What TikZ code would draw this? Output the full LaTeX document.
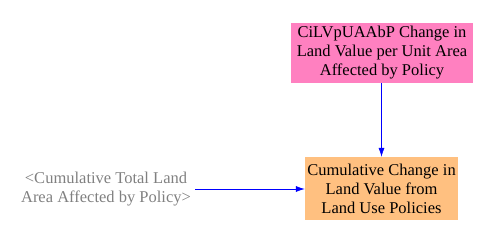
\documentclass[tikz,border=0pt]{standalone}
\usepackage{fontspec}
\setmainfont{Liberation Serif}
\usepackage{xcolor}
\usepackage{tikz}
\usetikzlibrary{arrows.meta}

\definecolor{rosebox}{HTML}{FF80C0}
\definecolor{peachbox}{HTML}{FFC080}

\begin{document}
\begin{tikzpicture}[x=1pt, y=-1pt]
      \tikzstyle{box} = [draw=none, align=center, inner sep=0pt, font=\fontsize{16.5}{19}\selectfont, text=black]
      \tikzstyle{ghost} = [align=center, inner sep=0pt, font=\fontsize{16.5}{19}\selectfont, text=gray]
      \tikzstyle{edge} = [-{Latex[length=9pt, width=6pt]}, semithick, blue]
      \useasboundingbox (0,0) rectangle (494,248);
      \node[box, fill=rosebox, minimum width=182pt, minimum height=60pt] (rate) at (382,53) {CiLVpUAAbP Change in\\Land Value per Unit Area\\Affected by Policy};
      \node[box, fill=peachbox, minimum width=153pt, minimum height=63pt] (cum) at (381.5,188.5) {Cumulative Change in\\Land Value from\\Land Use Policies};
      \node[ghost] (area) at (106,189) {<Cumulative Total Land\\Area Affected by Policy>};
      \draw[edge] (rate.south -| cum.north) -- (cum.north); % flow down
      \draw[edge] (area.east) ++(4,0) coordinate (areaend) -- (areaend -| cum.west);
\end{tikzpicture}
\end{document}
